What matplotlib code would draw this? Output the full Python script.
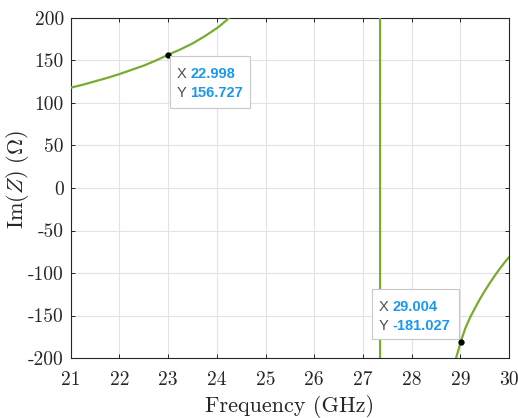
import matplotlib
matplotlib.use("Agg")
import matplotlib.pyplot as plt

plt.rcParams["font.family"] = ["cmr10", "DejaVu Serif"]
plt.rcParams["mathtext.fontset"] = "cm"
plt.rcParams["axes.unicode_minus"] = False
plt.rcParams["axes.formatter.use_mathtext"] = False

# Reactance sweep (GHz, Ohm); the branch jumps from +inf to -inf near 27.35 GHz
freq = [21.0, 21.25, 21.5, 21.75, 22.0, 22.25, 22.5, 22.75, 23.0, 23.25,
        23.5, 23.75, 24.0, 24.1, 24.2, 24.3, 24.5,
        27.35, 27.35,
        28.8, 28.91, 28.95, 29.004, 29.1, 29.2, 29.3, 29.4, 29.5,
        29.6, 29.7, 29.8, 29.9, 30.0]
im_z = [118.0, 121.5, 125.5, 129.5, 134.0, 139.0, 144.0, 150.0, 156.727, 163.0,
        170.0, 178.5, 188.0, 192.5, 197.5, 203.0, 214.0,
        20000.0, -20000.0,
        -225.0, -200.0, -192.0, -181.027, -165.0, -152.0, -141.0, -130.5, -121.0,
        -112.0, -103.5, -95.5, -88.0, -81.0]

tips_x = [22.998, 29.004]
tips_y = [156.727, -181.027]

xticks = [21, 22, 23, 24, 25, 26, 27, 28, 29, 30]
yticks = [-200, -150, -100, -50, 0, 50, 100, 150, 200]

W, H = 518, 418
fig = plt.figure(figsize=(W / 100, H / 100), dpi=100)
ax = fig.add_axes([0.1365, 0.1435, 0.8465, 0.8135])

ax.plot(freq, im_z, color="#77AC30", lw=1.6, zorder=3)
ax.plot(tips_x, tips_y, "o", color="black", ms=3.5, zorder=4)

ax.set_xlim(21, 30)
ax.set_ylim(-200, 200)
ax.set_xticks(xticks)
ax.set_yticks(yticks)
ax.set_xticklabels([str(v) for v in xticks])
ax.set_yticklabels([str(v) for v in yticks])

ax.grid(True, color="#e3e3e3", lw=0.8)
ax.set_axisbelow(True)
ax.tick_params(direction="in", top=True, right=True, length=3,
               width=0.7, colors="#262626", labelsize=14, pad=5)
ax.tick_params(axis="x", pad=9.5)
for s in ax.spines.values():
    s.set_color("#262626")
    s.set_linewidth(0.8)

ax.set_xlabel("Frequency (GHz)", fontsize=16, color="#262626")
ax.set_ylabel(r"$\mathrm{Im}(Z)\ (\Omega)$", fontsize=16, color="#262626")
ax.xaxis.set_label_coords(0.5, -0.108)
ax.yaxis.set_label_coords(-0.09, 0.523)

# Data tip boxes: (left, top, right, bottom) in figure pixels from the top-left
tip_boxes = [
    (170, 56, 250, 108),
    (372, 289, 459, 339),
]
for (x, y), (l, t, r, b) in zip(zip(tips_x, tips_y), tip_boxes):
    rect = plt.Rectangle((l / W, 1 - b / H), (r - l) / W, (b - t) / H,
                         transform=fig.transFigure, facecolor="white",
                         edgecolor="#c8c8c8", lw=0.8, zorder=5)
    fig.add_artist(rect)
    row1 = 1 - (t + 18) / H
    row2 = 1 - (t + 37) / H
    x0 = (l + 7) / W
    for row, lab, val in [(row1, "X", f"{x:.3f}"), (row2, "Y", f"{y:.3f}")]:
        txt = fig.text(x0, row, lab + " ", fontsize=10.5, family="Liberation Sans",
                       color="#4d4d4d", va="center", ha="left", zorder=6)
        fig.canvas.draw()
        bb = txt.get_window_extent()
        fig.text(bb.x1 / fig.bbox.width, row, val, fontsize=10.5,
                 family="Liberation Sans", fontweight="bold", color="#1a98f0",
                 va="center", ha="left", zorder=6)

fig.savefig("out.png", dpi=100)
